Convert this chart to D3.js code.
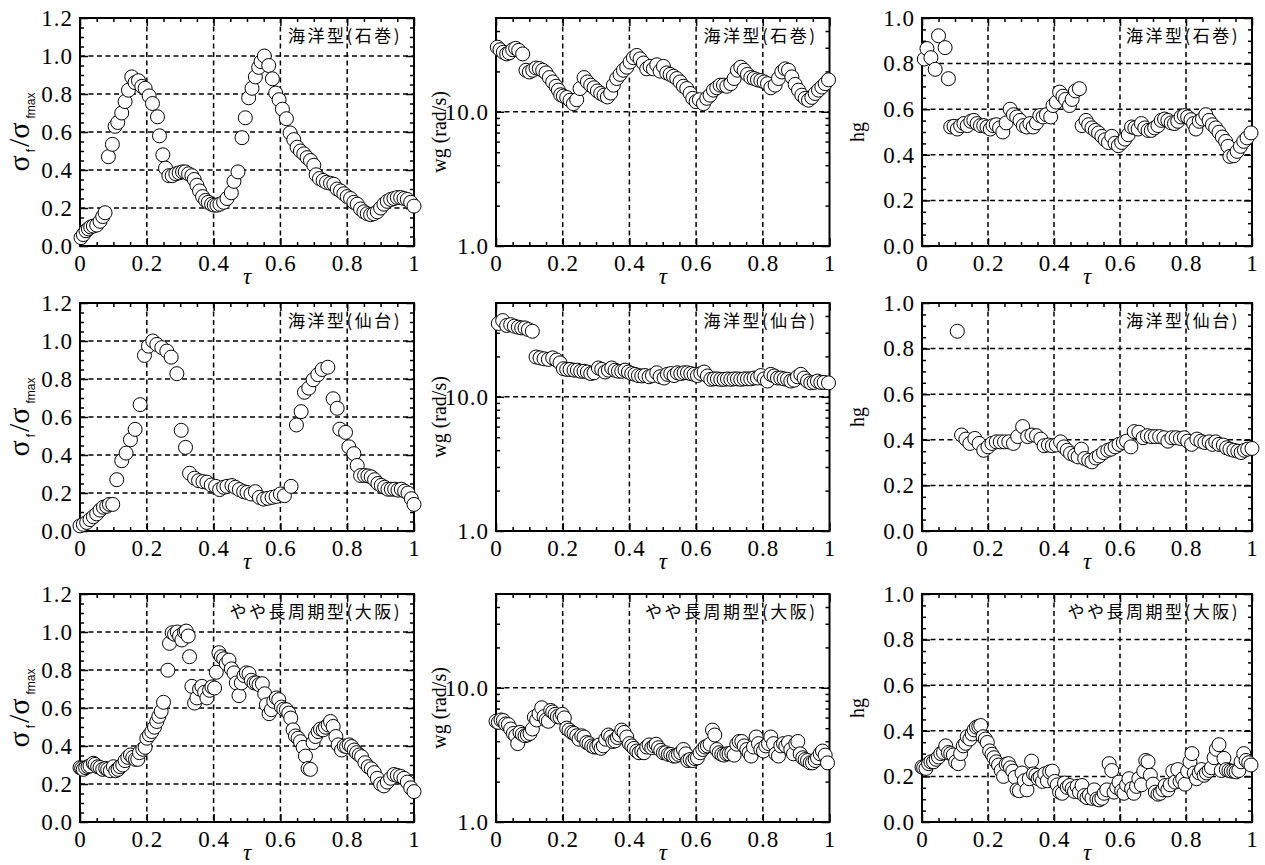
<!DOCTYPE html>
<html>
<head>
<meta charset="utf-8">
<script src="https://cdn.jsdelivr.net/npm/d3@7"></script>
<style>
body { margin: 0; background: #fff; }
svg { display: block; }
.tick text { font-family: "Liberation Serif", "Times New Roman", serif; font-size: 23px; fill: #000; letter-spacing: 1px; }
.tick line { stroke: #000; stroke-width: 1.5; }
</style>
</head>
<body>
<svg id="chart" width="1265" height="865"></svg>
<script>
// sigma_f / sigma_fmax  vs tau
const sigIshinomaki = [[0.003,0.044],[0.01,0.06],[0.018,0.08],[0.025,0.09],[0.032,0.1],[0.04,0.105],[0.05,0.11],[0.06,0.13],[0.068,0.155],[0.075,0.175],[0.085,0.47],[0.097,0.535],[0.105,0.63],[0.113,0.65],[0.125,0.7],[0.135,0.76],[0.145,0.82],[0.155,0.89],[0.165,0.86],[0.175,0.87],[0.185,0.84],[0.195,0.83],[0.207,0.79],[0.217,0.75],[0.232,0.68],[0.238,0.58],[0.248,0.48],[0.256,0.41],[0.266,0.37],[0.276,0.37],[0.287,0.38],[0.297,0.385],[0.307,0.39],[0.315,0.39],[0.325,0.38],[0.335,0.37],[0.342,0.35],[0.35,0.32],[0.358,0.29],[0.367,0.26],[0.376,0.24],[0.384,0.23],[0.394,0.22],[0.402,0.215],[0.41,0.215],[0.419,0.22],[0.43,0.23],[0.44,0.25],[0.453,0.28],[0.461,0.34],[0.473,0.39],[0.485,0.57],[0.495,0.675],[0.505,0.78],[0.515,0.83],[0.525,0.89],[0.535,0.94],[0.542,0.97],[0.552,1.0],[0.565,0.95],[0.576,0.88],[0.586,0.805],[0.596,0.77],[0.606,0.72],[0.618,0.67],[0.629,0.595],[0.64,0.56],[0.65,0.52],[0.66,0.5],[0.67,0.485],[0.68,0.465],[0.69,0.45],[0.7,0.425],[0.707,0.375],[0.717,0.355],[0.728,0.345],[0.738,0.335],[0.75,0.33],[0.76,0.325],[0.77,0.3],[0.78,0.29],[0.79,0.275],[0.8,0.26],[0.81,0.25],[0.82,0.23],[0.83,0.22],[0.84,0.195],[0.85,0.18],[0.86,0.17],[0.87,0.165],[0.88,0.17],[0.89,0.18],[0.9,0.2],[0.91,0.22],[0.92,0.235],[0.93,0.245],[0.94,0.25],[0.95,0.255],[0.96,0.255],[0.97,0.25],[0.98,0.245],[0.99,0.23],[1.0,0.21]];
const sigSendai = [[0.0,0.027],[0.01,0.035],[0.02,0.045],[0.03,0.06],[0.04,0.075],[0.05,0.09],[0.06,0.11],[0.07,0.125],[0.08,0.13],[0.088,0.14],[0.098,0.14],[0.11,0.27],[0.125,0.37],[0.138,0.41],[0.151,0.48],[0.165,0.535],[0.18,0.665],[0.193,0.924],[0.205,0.973],[0.218,1.0],[0.23,0.982],[0.245,0.965],[0.26,0.947],[0.273,0.915],[0.29,0.828],[0.303,0.53],[0.316,0.44],[0.328,0.304],[0.343,0.278],[0.355,0.265],[0.368,0.26],[0.38,0.257],[0.393,0.242],[0.406,0.235],[0.418,0.218],[0.43,0.23],[0.44,0.235],[0.455,0.239],[0.465,0.23],[0.477,0.218],[0.49,0.207],[0.5,0.203],[0.512,0.195],[0.525,0.207],[0.537,0.177],[0.55,0.168],[0.562,0.172],[0.575,0.177],[0.587,0.182],[0.6,0.195],[0.612,0.186],[0.632,0.235],[0.648,0.558],[0.662,0.628],[0.672,0.73],[0.685,0.752],[0.698,0.796],[0.712,0.823],[0.725,0.85],[0.742,0.862],[0.758,0.696],[0.77,0.646],[0.778,0.536],[0.795,0.519],[0.805,0.443],[0.82,0.407],[0.83,0.345],[0.84,0.292],[0.852,0.292],[0.862,0.29],[0.872,0.285],[0.882,0.27],[0.892,0.25],[0.902,0.24],[0.912,0.23],[0.922,0.22],[0.932,0.22],[0.942,0.22],[0.952,0.215],[0.962,0.22],[0.972,0.21],[0.982,0.2],[0.992,0.17],[1.0,0.14]];
const sigOsaka = [[0.0,0.286],[0.005,0.282],[0.01,0.277],[0.017,0.286],[0.024,0.291],[0.03,0.295],[0.04,0.309],[0.045,0.303],[0.053,0.291],[0.06,0.287],[0.068,0.277],[0.077,0.282],[0.083,0.277],[0.091,0.27],[0.1,0.291],[0.107,0.27],[0.114,0.277],[0.12,0.291],[0.128,0.3],[0.135,0.323],[0.143,0.34],[0.151,0.353],[0.158,0.34],[0.166,0.33],[0.173,0.33],[0.178,0.365],[0.188,0.383],[0.195,0.393],[0.2,0.441],[0.208,0.459],[0.215,0.476],[0.223,0.499],[0.23,0.529],[0.236,0.556],[0.243,0.582],[0.25,0.63],[0.263,0.799],[0.268,0.94],[0.276,0.996],[0.283,0.988],[0.291,1.0],[0.298,0.979],[0.305,0.958],[0.313,1.0],[0.318,1.005],[0.324,0.979],[0.328,0.87],[0.335,0.714],[0.343,0.626],[0.35,0.653],[0.358,0.7],[0.365,0.714],[0.373,0.683],[0.38,0.653],[0.388,0.693],[0.395,0.711],[0.403,0.705],[0.408,0.788],[0.416,0.891],[0.423,0.87],[0.43,0.859],[0.438,0.834],[0.446,0.852],[0.453,0.806],[0.461,0.785],[0.468,0.732],[0.476,0.665],[0.483,0.732],[0.491,0.771],[0.498,0.785],[0.506,0.781],[0.513,0.746],[0.521,0.732],[0.528,0.732],[0.536,0.723],[0.546,0.728],[0.553,0.675],[0.558,0.617],[0.566,0.57],[0.573,0.591],[0.58,0.635],[0.588,0.653],[0.595,0.644],[0.603,0.605],[0.61,0.594],[0.618,0.591],[0.625,0.573],[0.631,0.547],[0.638,0.485],[0.645,0.453],[0.653,0.441],[0.66,0.423],[0.668,0.393],[0.675,0.347],[0.683,0.282],[0.69,0.277],[0.698,0.418],[0.705,0.45],[0.713,0.476],[0.72,0.489],[0.728,0.485],[0.735,0.499],[0.743,0.511],[0.75,0.529],[0.758,0.503],[0.766,0.45],[0.773,0.406],[0.783,0.379],[0.791,0.4],[0.798,0.397],[0.806,0.406],[0.813,0.397],[0.821,0.379],[0.828,0.365],[0.836,0.353],[0.843,0.344],[0.853,0.312],[0.863,0.291],[0.872,0.28],[0.881,0.26],[0.89,0.23],[0.9,0.2],[0.91,0.19],[0.92,0.21],[0.93,0.23],[0.94,0.25],[0.95,0.245],[0.96,0.24],[0.97,0.23],[0.98,0.21],[0.99,0.18],[1.0,0.16]];

// wg (rad/s) vs tau, log axis
const wgIshinomaki = [[0.004,30.3],[0.012,29],[0.022,27.8],[0.032,27],[0.04,27.5],[0.05,29],[0.059,29.7],[0.068,28.7],[0.08,27],[0.09,20.4],[0.1,19.8],[0.11,20.4],[0.12,21.2],[0.13,21],[0.14,20.4],[0.15,19.5],[0.16,18],[0.17,16.7],[0.18,15.5],[0.187,14.5],[0.194,13.4],[0.202,13.1],[0.212,12.8],[0.222,12.2],[0.232,11.5],[0.242,12.3],[0.252,14.9],[0.264,18],[0.274,16.7],[0.284,15.8],[0.294,15.1],[0.304,14.3],[0.314,13.7],[0.324,13.3],[0.334,12.9],[0.344,13.8],[0.352,15.8],[0.362,17.7],[0.372,19],[0.382,20.4],[0.392,21.5],[0.402,23.5],[0.412,25.3],[0.422,26.3],[0.432,24.8],[0.442,23.1],[0.452,20.9],[0.462,21.8],[0.472,20.9],[0.482,22.4],[0.492,20.1],[0.502,21.8],[0.512,19.5],[0.522,19],[0.532,18.4],[0.542,17.7],[0.552,16.7],[0.562,15.5],[0.572,14.9],[0.582,13.7],[0.59,12.6],[0.6,11.9],[0.61,12.3],[0.622,11.5],[0.632,12.6],[0.642,13.3],[0.652,14.5],[0.662,15.1],[0.672,15.8],[0.682,15.8],[0.692,15.5],[0.704,16.2],[0.714,17.7],[0.724,20.4],[0.734,21.5],[0.744,20.4],[0.754,19],[0.764,18],[0.774,17.7],[0.784,17.3],[0.794,17.1],[0.804,16.7],[0.814,16.2],[0.824,15.1],[0.837,15.8],[0.847,17.7],[0.857,19.8],[0.867,20.9],[0.877,20.4],[0.887,18.2],[0.897,16],[0.907,14.5],[0.917,13.3],[0.927,12.6],[0.937,12.2],[0.947,12.8],[0.957,13.7],[0.967,14.5],[0.977,15.3],[0.987,16.2],[0.997,17.3]];
const wgSendai = [[0.007,35.2],[0.02,37],[0.032,34],[0.044,34.5],[0.055,33.6],[0.067,33],[0.077,32.6],[0.087,32.6],[0.097,31.7],[0.109,30.8],[0.12,19.8],[0.132,19.5],[0.144,19.2],[0.157,19],[0.17,19.5],[0.182,18.8],[0.192,17.9],[0.202,16.2],[0.212,16],[0.222,16],[0.234,15.8],[0.244,15.8],[0.254,15.5],[0.264,15.5],[0.274,15.3],[0.284,14.9],[0.294,15.1],[0.307,16.4],[0.317,16],[0.327,15.3],[0.337,15.8],[0.347,16.4],[0.357,15.8],[0.367,15.5],[0.377,15.5],[0.387,15.8],[0.397,15.3],[0.407,14.9],[0.417,14.7],[0.427,14.4],[0.437,14.3],[0.447,14.4],[0.459,14.1],[0.469,14.4],[0.482,15.1],[0.492,14.1],[0.504,13.8],[0.514,14.7],[0.524,14.9],[0.534,14.4],[0.544,15.1],[0.554,14.9],[0.564,15.1],[0.574,15.1],[0.584,14.9],[0.594,14.7],[0.604,14.4],[0.614,14.9],[0.624,15.3],[0.634,14.3],[0.644,13.5],[0.654,13.6],[0.664,13.6],[0.674,13.5],[0.684,13.5],[0.694,13.6],[0.704,13.5],[0.714,13.6],[0.724,13.6],[0.734,13.5],[0.744,13.6],[0.754,13.6],[0.764,13.6],[0.774,13.8],[0.784,13.8],[0.794,14.4],[0.804,13.6],[0.814,13.1],[0.824,14.7],[0.834,14.3],[0.844,13.8],[0.854,13.8],[0.864,13.6],[0.874,13.5],[0.884,13.1],[0.894,13.3],[0.904,14.1],[0.914,14.7],[0.924,13.8],[0.934,13.1],[0.944,12.7],[0.954,12.8],[0.964,13.1],[0.974,12.8],[0.984,12.8],[0.997,12.7]];
const wgOsaka = [[0.0,5.63],[0.007,5.53],[0.015,5.76],[0.022,5.7],[0.029,5.38],[0.037,5.32],[0.044,4.93],[0.052,4.57],[0.059,4.39],[0.065,3.84],[0.072,4.65],[0.079,4.5],[0.087,4.39],[0.094,4.45],[0.102,4.57],[0.109,4.93],[0.115,6.04],[0.122,5.76],[0.129,6.4],[0.137,7.1],[0.144,6.1],[0.15,5.76],[0.157,5.63],[0.164,6.78],[0.17,6.6],[0.177,6.34],[0.184,6.1],[0.192,6.04],[0.199,6.34],[0.205,5.97],[0.212,5.01],[0.219,4.84],[0.227,4.65],[0.234,4.57],[0.242,4.39],[0.249,4.14],[0.257,4.39],[0.264,4.3],[0.272,3.91],[0.279,3.84],[0.287,3.69],[0.294,3.62],[0.302,3.62],[0.309,3.75],[0.315,3.54],[0.322,3.69],[0.329,4.14],[0.337,4.45],[0.344,4.3],[0.35,3.98],[0.357,4.02],[0.364,4.26],[0.37,4.45],[0.377,4.84],[0.384,4.65],[0.392,4.3],[0.4,3.84],[0.407,3.69],[0.414,3.54],[0.422,3.38],[0.429,3.28],[0.437,3.38],[0.444,3.28],[0.452,3.62],[0.459,3.75],[0.467,3.58],[0.474,3.69],[0.48,3.8],[0.487,3.58],[0.494,3.42],[0.502,3.28],[0.509,3.28],[0.517,3.19],[0.524,3.19],[0.532,3.1],[0.539,3.1],[0.547,3.19],[0.554,3.28],[0.562,3.47],[0.569,3.22],[0.575,2.87],[0.582,2.92],[0.59,2.87],[0.597,2.97],[0.604,3.01],[0.612,3.28],[0.62,3.47],[0.627,3.62],[0.634,3.69],[0.642,3.8],[0.649,4.84],[0.656,4.45],[0.662,3.47],[0.669,3.28],[0.677,3.19],[0.684,3.15],[0.692,3.22],[0.699,3.22],[0.707,3.28],[0.714,3.15],[0.722,3.8],[0.729,3.98],[0.737,3.98],[0.744,3.69],[0.752,3.47],[0.759,3.28],[0.765,3.1],[0.772,3.62],[0.78,4.3],[0.787,3.84],[0.794,3.47],[0.802,3.38],[0.809,3.69],[0.817,3.84],[0.824,4.3],[0.832,3.84],[0.839,3.22],[0.847,3.1],[0.854,3.69],[0.862,3.84],[0.869,3.69],[0.877,3.91],[0.884,3.47],[0.892,3.22],[0.899,3.84],[0.905,3.98],[0.912,3.22],[0.92,3.01],[0.927,2.92],[0.934,2.87],[0.942,2.76],[0.949,2.76],[0.957,2.87],[0.964,3.01],[0.972,3.22],[0.979,3.38],[0.987,3.15],[0.994,2.76]];

// hg vs tau
const hgIshinomaki = [[0.007,0.82],[0.015,0.866],[0.027,0.826],[0.04,0.775],[0.05,0.922],[0.07,0.87],[0.08,0.734],[0.087,0.522],[0.097,0.525],[0.107,0.513],[0.117,0.528],[0.127,0.537],[0.137,0.528],[0.148,0.547],[0.157,0.551],[0.167,0.537],[0.177,0.528],[0.187,0.528],[0.197,0.522],[0.207,0.513],[0.215,0.528],[0.225,0.532],[0.235,0.518],[0.245,0.5],[0.255,0.54],[0.267,0.6],[0.277,0.576],[0.287,0.566],[0.297,0.551],[0.307,0.528],[0.317,0.522],[0.327,0.537],[0.337,0.522],[0.347,0.54],[0.357,0.572],[0.367,0.566],[0.377,0.576],[0.39,0.566],[0.397,0.616],[0.407,0.631],[0.417,0.675],[0.427,0.657],[0.435,0.643],[0.447,0.616],[0.455,0.643],[0.465,0.68],[0.477,0.69],[0.485,0.528],[0.497,0.551],[0.505,0.532],[0.515,0.518],[0.525,0.507],[0.535,0.496],[0.545,0.481],[0.555,0.466],[0.565,0.454],[0.575,0.481],[0.585,0.451],[0.595,0.44],[0.605,0.454],[0.615,0.469],[0.625,0.488],[0.635,0.522],[0.645,0.518],[0.655,0.513],[0.665,0.537],[0.675,0.518],[0.685,0.507],[0.695,0.507],[0.705,0.518],[0.715,0.528],[0.725,0.551],[0.735,0.557],[0.745,0.551],[0.755,0.54],[0.765,0.537],[0.775,0.547],[0.785,0.566],[0.795,0.572],[0.805,0.566],[0.815,0.554],[0.823,0.537],[0.83,0.513],[0.84,0.547],[0.85,0.557],[0.86,0.576],[0.87,0.551],[0.88,0.532],[0.89,0.518],[0.9,0.499],[0.91,0.478],[0.92,0.459],[0.927,0.437],[0.933,0.393],[0.945,0.396],[0.955,0.415],[0.965,0.437],[0.975,0.459],[0.985,0.474],[0.997,0.496]];
const hgSendai = [[0.107,0.876],[0.12,0.421],[0.133,0.403],[0.145,0.384],[0.16,0.406],[0.173,0.384],[0.187,0.354],[0.2,0.369],[0.212,0.384],[0.225,0.391],[0.237,0.391],[0.25,0.391],[0.263,0.391],[0.277,0.384],[0.29,0.414],[0.305,0.458],[0.32,0.414],[0.333,0.421],[0.347,0.418],[0.36,0.403],[0.37,0.374],[0.383,0.377],[0.395,0.374],[0.407,0.377],[0.42,0.391],[0.43,0.369],[0.44,0.354],[0.45,0.34],[0.463,0.332],[0.473,0.325],[0.483,0.359],[0.493,0.318],[0.505,0.31],[0.515,0.303],[0.527,0.32],[0.537,0.329],[0.55,0.344],[0.563,0.354],[0.573,0.359],[0.585,0.369],[0.597,0.38],[0.61,0.388],[0.62,0.394],[0.633,0.369],[0.643,0.436],[0.657,0.433],[0.67,0.409],[0.683,0.418],[0.695,0.414],[0.707,0.414],[0.72,0.414],[0.733,0.409],[0.745,0.394],[0.757,0.409],[0.77,0.409],[0.783,0.406],[0.795,0.409],[0.805,0.394],[0.817,0.38],[0.833,0.403],[0.845,0.394],[0.857,0.388],[0.87,0.391],[0.88,0.38],[0.89,0.391],[0.9,0.38],[0.913,0.377],[0.923,0.365],[0.933,0.359],[0.945,0.354],[0.957,0.35],[0.967,0.344],[0.977,0.354],[0.987,0.359],[1.0,0.362]];
const hgOsaka = [[0.0,0.241],[0.005,0.238],[0.012,0.235],[0.02,0.256],[0.027,0.264],[0.035,0.264],[0.043,0.275],[0.05,0.285],[0.057,0.3],[0.065,0.305],[0.072,0.334],[0.08,0.305],[0.087,0.3],[0.095,0.294],[0.102,0.264],[0.11,0.256],[0.117,0.3],[0.125,0.334],[0.132,0.345],[0.137,0.374],[0.145,0.364],[0.152,0.386],[0.158,0.404],[0.165,0.416],[0.172,0.419],[0.178,0.423],[0.185,0.374],[0.192,0.364],[0.198,0.349],[0.205,0.312],[0.212,0.297],[0.218,0.282],[0.225,0.264],[0.232,0.25],[0.24,0.226],[0.247,0.2],[0.255,0.253],[0.262,0.256],[0.268,0.238],[0.275,0.223],[0.282,0.196],[0.288,0.141],[0.295,0.137],[0.303,0.215],[0.31,0.181],[0.318,0.141],[0.325,0.19],[0.332,0.267],[0.338,0.211],[0.345,0.205],[0.352,0.19],[0.358,0.196],[0.365,0.178],[0.372,0.211],[0.38,0.181],[0.387,0.22],[0.395,0.223],[0.402,0.178],[0.41,0.163],[0.417,0.131],[0.425,0.126],[0.432,0.171],[0.44,0.152],[0.447,0.16],[0.455,0.146],[0.462,0.134],[0.47,0.156],[0.477,0.131],[0.485,0.16],[0.492,0.116],[0.5,0.107],[0.507,0.119],[0.515,0.104],[0.522,0.141],[0.53,0.101],[0.537,0.097],[0.545,0.104],[0.552,0.126],[0.56,0.141],[0.567,0.256],[0.575,0.226],[0.582,0.131],[0.59,0.152],[0.597,0.175],[0.605,0.137],[0.612,0.126],[0.62,0.163],[0.627,0.19],[0.635,0.146],[0.642,0.126],[0.65,0.156],[0.657,0.19],[0.665,0.163],[0.672,0.223],[0.678,0.27],[0.685,0.264],[0.692,0.205],[0.7,0.166],[0.707,0.131],[0.715,0.122],[0.722,0.126],[0.73,0.141],[0.737,0.16],[0.745,0.141],[0.752,0.163],[0.76,0.223],[0.767,0.175],[0.775,0.23],[0.782,0.178],[0.79,0.19],[0.797,0.166],[0.805,0.223],[0.812,0.264],[0.818,0.3],[0.825,0.215],[0.832,0.19],[0.84,0.215],[0.847,0.23],[0.855,0.205],[0.862,0.215],[0.87,0.226],[0.877,0.238],[0.885,0.282],[0.892,0.319],[0.9,0.339],[0.907,0.226],[0.915,0.279],[0.922,0.23],[0.93,0.226],[0.937,0.223],[0.945,0.223],[0.952,0.22],[0.96,0.226],[0.967,0.264],[0.975,0.3],[0.982,0.27],[0.99,0.26],[0.997,0.25]];

const siteLabels = ["海洋型(石巻)", "海洋型(仙台)", "やや長周期型(大阪)"];
const tauTicks = [0, 0.2, 0.4, 0.6, 0.8, 1];
const sigTicks = [0, 0.2, 0.4, 0.6, 0.8, 1.0, 1.2];
const hgTicks = [0, 0.2, 0.4, 0.6, 0.8, 1.0];
const wgTicks = [1, 10];
const wgMinor = [2, 3, 4, 5, 6, 7, 8, 9, 20, 30, 40];

const serif = '"Liberation Serif", "Times New Roman", serif';
const sans = '"Liberation Sans", Arial, sans-serif';
const cjk = '"Noto Sans CJK JP", "Noto Sans CJK SC", sans-serif';

const svg = d3.select("#chart");
const colX = [80, 496, 922];
const colW = [334, 333.5, 330];
const rowY = [18, 303, 594];
const plotH = 228;

const grid = [
    [sigIshinomaki, wgIshinomaki, hgIshinomaki],
    [sigSendai, wgSendai, hgSendai],
    [sigOsaka, wgOsaka, hgOsaka]
];
const kinds = ["sig", "wg", "hg"];

for (let r = 0; r < 3; r++)
    for (let c = 0; c < 3; c++)
        drawPanel(r, c, kinds[c], grid[r][c]);

function drawPanel(row, col, kind, data) {
    const w = colW[col], h = plotH;
    const g = svg.append("g").attr("transform", `translate(${colX[col]},${rowY[row]})`);
    const x = d3.scaleLinear().domain([0, 1]).range([0, w]);
    let y, yTicks, yMinor;
    if (kind === "wg") {
        y = d3.scaleLog().domain([1, 50]).range([h, 0]);
        yTicks = wgTicks;
        yMinor = wgMinor;
    } else {
        yTicks = kind === "sig" ? sigTicks : hgTicks;
        const top = yTicks[yTicks.length - 1];
        y = d3.scaleLinear().domain([0, top]).range([h, 0]);
        yMinor = d3.range(0, top + 0.001, 0.05).filter(v => Math.abs(v * 5 - Math.round(v * 5)) > 0.01);
    }
    const yFmt = d3.format(".1f");
    const xMinor = d3.range(0, 1.001, 0.05).filter(v => Math.abs(v * 5 - Math.round(v * 5)) > 0.01);
    const tauFmt = d => (d === 0 || d === 1) ? String(d) : d3.format(".1f")(d);

    // dashed grid
    const gridG = g.append("g").attr("stroke", "#000").attr("stroke-width", 1.5).attr("stroke-dasharray", "5,3.5");
    gridG.selectAll(".vg").data(tauTicks.slice(1, -1)).join("line")
        .attr("x1", d => x(d)).attr("x2", d => x(d)).attr("y1", 0).attr("y2", h);
    const hLines = kind === "wg" ? [10] : yTicks.slice(1, -1);
    gridG.selectAll(".hg").data(hLines).join("line")
        .attr("x1", 0).attr("x2", w).attr("y1", d => y(d)).attr("y2", d => y(d));

    // axes with inward ticks
    g.append("g").attr("transform", `translate(0,${h})`)
        .call(d3.axisBottom(x).tickValues(tauTicks).tickFormat(tauFmt).tickSizeInner(-8).tickSizeOuter(0).tickPadding(9));
    g.append("g").attr("transform", `translate(0,${h})`)
        .call(d3.axisBottom(x).tickValues(xMinor).tickFormat("").tickSizeInner(-4).tickSizeOuter(0));
    g.append("g").call(d3.axisTop(x).tickValues(tauTicks).tickFormat("").tickSizeInner(-8).tickSizeOuter(0));
    g.append("g").call(d3.axisTop(x).tickValues(xMinor).tickFormat("").tickSizeInner(-4).tickSizeOuter(0));
    g.append("g").call(d3.axisLeft(y).tickValues(yTicks).tickFormat(yFmt).tickSizeInner(-8).tickSizeOuter(0).tickPadding(7));
    g.append("g").call(d3.axisLeft(y).tickValues(yMinor).tickFormat("").tickSizeInner(-4).tickSizeOuter(0));
    g.append("g").attr("transform", `translate(${w},0)`)
        .call(d3.axisRight(y).tickValues(yTicks).tickFormat("").tickSizeInner(-8).tickSizeOuter(0));
    g.append("g").attr("transform", `translate(${w},0)`)
        .call(d3.axisRight(y).tickValues(yMinor).tickFormat("").tickSizeInner(-4).tickSizeOuter(0));
    g.selectAll(".domain").remove();

    // frame
    g.append("rect").attr("width", w).attr("height", h)
        .attr("fill", "none").attr("stroke", "#000").attr("stroke-width", 2);

    // site label
    g.append("text").attr("x", w - 12).attr("y", 24)
        .attr("text-anchor", "end").attr("font-family", cjk).attr("font-size", 17)
        .attr("letter-spacing", 2.5).attr("fill", "#000").text(siteLabels[row]);

    // markers
    g.append("g").selectAll("circle").data(data).join("circle")
        .attr("cx", d => x(d[0])).attr("cy", d => y(d[1])).attr("r", 7)
        .attr("fill", "#fff").attr("stroke", "#000").attr("stroke-width", 1);

    // x title
    g.append("text").attr("x", w / 2).attr("y", h + 38).attr("text-anchor", "middle")
        .attr("font-family", serif).attr("font-style", "italic").attr("font-size", 23).text("τ");

    // y title
    if (kind === "sig") {
        const t = g.append("text").attr("transform", `translate(-51,${h / 2}) rotate(-90)`)
            .attr("text-anchor", "middle").attr("font-family", serif).attr("font-size", 30);
        t.append("tspan").text("σ");
        t.append("tspan").attr("font-family", sans).attr("font-size", 12).attr("dy", 6).attr("dx", 3).text("f");
        t.append("tspan").attr("dy", -6).attr("dx", 2).text("/");
        t.append("tspan").text("σ");
        t.append("tspan").attr("font-family", sans).attr("font-size", 12).attr("dy", 6).attr("dx", 4).text("fmax");
    } else if (kind === "wg") {
        g.append("text").attr("transform", `translate(-50,${h / 2}) rotate(-90)`)
            .attr("text-anchor", "middle").attr("font-family", serif).attr("font-size", 20).text("wg (rad/s)");
    } else {
        g.append("text").attr("transform", `translate(-58,${h / 2}) rotate(-90)`)
            .attr("text-anchor", "middle").attr("font-family", serif).attr("font-size", 20).text("hg");
    }
}
</script>
</body>
</html>
